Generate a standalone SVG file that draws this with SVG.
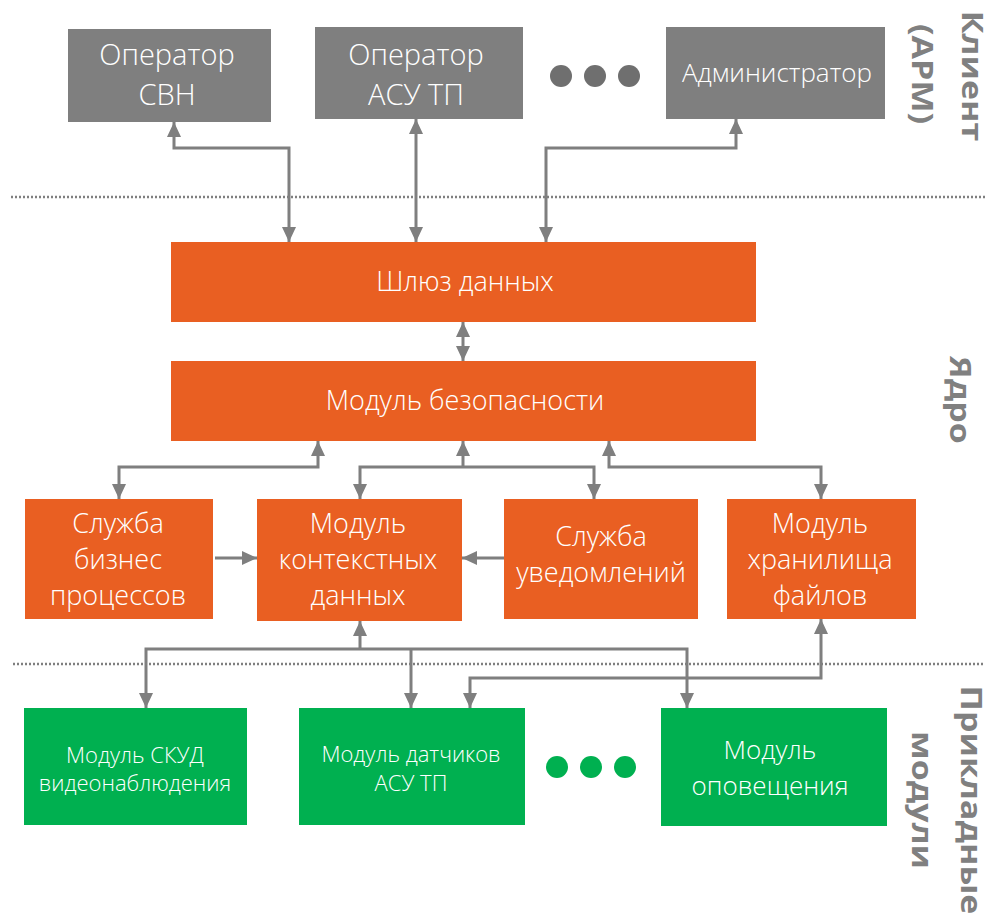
<svg xmlns="http://www.w3.org/2000/svg" width="997" height="917" viewBox="0 0 997 917">
<style>
.g{fill:#7f7f7f}
.o{fill:#e95f22}
.gr{fill:#00b050}
.t{font-family:"Open Sans","Noto Sans",sans-serif;font-weight:350;fill:#fff;text-anchor:middle}
.s{font-family:"Open Sans","Noto Sans",sans-serif;fill:#808080;font-weight:bold;font-size:34px;text-anchor:middle}
.c{fill:none;stroke:#7f7f7f;stroke-width:3}
.d{fill:none;stroke:#7f7f7f;stroke-width:2.5;stroke-dasharray:2 2}
</style>
<defs>
<marker id="ah" viewBox="0 0 15 14" refX="15" refY="7" markerWidth="15" markerHeight="14" markerUnits="userSpaceOnUse" orient="auto-start-reverse">
<path d="M0,0 L15,7 L0,14 z" fill="#7f7f7f"/>
</marker>
</defs>
<rect width="997" height="917" fill="#fff"/>
<g id="separators">
<line class="d" x1="11" y1="197" x2="985" y2="197"/>
<line class="d" x1="13" y1="664" x2="985" y2="664"/>
</g>
<g id="connectors">
<path class="c" d="M289,242 V148 H174 V122" marker-start="url(#ah)" marker-end="url(#ah)"/>
<path class="c" d="M416,242 V119" marker-start="url(#ah)" marker-end="url(#ah)"/>
<path class="c" d="M546,242 V148 H736 V119" marker-start="url(#ah)" marker-end="url(#ah)"/>
<path class="c" d="M463,322 V361" marker-start="url(#ah)" marker-end="url(#ah)"/>
<path class="c" d="M318,441 V467 H119 V499" marker-start="url(#ah)" marker-end="url(#ah)"/>
<path class="c" d="M463,467 V441" marker-end="url(#ah)"/>
<path class="c" d="M360,499 V467 H594 V499" marker-start="url(#ah)" marker-end="url(#ah)"/>
<path class="c" d="M609,441 V467 H821 V499" marker-start="url(#ah)" marker-end="url(#ah)"/>
<path class="c" d="M215,558 H257" marker-end="url(#ah)"/>
<path class="c" d="M504,558 H462" marker-end="url(#ah)"/>
<path class="c" d="M360,649 V621" marker-end="url(#ah)"/>
<path class="c" d="M146,708 V649 H687 V708" marker-start="url(#ah)" marker-end="url(#ah)"/>
<path class="c" d="M411,649 V708" marker-end="url(#ah)"/>
<path class="c" d="M821,619 V678 H470 V708" marker-start="url(#ah)" marker-end="url(#ah)"/>
</g>
<g id="op-svn"><rect class="g" x="68" y="29" width="203" height="93"/>
<text class="t" font-size="29"><tspan x="167" y="65">Оператор</tspan><tspan x="167" y="105">СВН</tspan></text></g>
<g id="op-asu"><rect class="g" x="315" y="27" width="208" height="92"/>
<text class="t" font-size="29"><tspan x="416" y="65">Оператор</tspan><tspan x="416" y="105">АСУ ТП</tspan></text></g>
<g id="dots-top"><circle cx="561" cy="76" r="11" fill="#6f6f6f"/><circle cx="595" cy="76" r="11" fill="#6f6f6f"/><circle cx="629" cy="76" r="11" fill="#6f6f6f"/></g>
<g id="admin"><rect class="g" x="666" y="27" width="219" height="92"/>
<text class="t" font-size="26" x="777" y="82">Администратор</text></g>
<g id="gateway"><rect class="o" x="171" y="242" width="585" height="80"/>
<text class="t" font-size="27" x="465" y="291">Шлюз данных</text></g>
<g id="security"><rect class="o" x="171" y="361" width="585" height="80"/>
<text class="t" font-size="27" x="465" y="410">Модуль безопасности</text></g>
<g id="bp"><rect class="o" x="25" y="499" width="188" height="120"/>
<text class="t" font-size="27"><tspan x="118" y="533">Служба</tspan><tspan x="118" y="569">бизнес</tspan><tspan x="118" y="605">процессов</tspan></text></g>
<g id="ctx"><rect class="o" x="257" y="499" width="205" height="122"/>
<text class="t" font-size="27"><tspan x="358" y="533">Модуль</tspan><tspan x="358" y="569">контекстных</tspan><tspan x="358" y="605">данных</tspan></text></g>
<g id="notify"><rect class="o" x="504" y="499" width="194" height="120"/>
<text class="t" font-size="27"><tspan x="601" y="546">Служба</tspan><tspan x="601" y="582">уведомлений</tspan></text></g>
<g id="files"><rect class="o" x="727" y="499" width="189" height="120"/>
<text class="t" font-size="27"><tspan x="820" y="533">Модуль</tspan><tspan x="820" y="569">хранилища</tspan><tspan x="820" y="605">файлов</tspan></text></g>
<g id="skud"><rect class="gr" x="24" y="708" width="223" height="117"/>
<text class="t" font-size="22"><tspan x="135" y="763">Модуль СКУД</tspan><tspan x="135" y="791">видеонаблюдения</tspan></text></g>
<g id="sensors"><rect class="gr" x="299" y="708" width="226" height="117"/>
<text class="t" font-size="22"><tspan x="411" y="762">Модуль датчиков</tspan><tspan x="411" y="791">АСУ ТП</tspan></text></g>
<g id="dots-bottom"><circle cx="557" cy="767" r="11" fill="#00b050"/><circle cx="591" cy="767" r="11" fill="#00b050"/><circle cx="625" cy="767" r="11" fill="#00b050"/></g>
<g id="alert"><rect class="gr" x="661" y="708" width="226" height="118"/>
<text class="t" font-size="26"><tspan x="770" y="759">Модуль</tspan><tspan x="770" y="795">оповещения</tspan></text></g>
<g id="labels">
<text class="s" transform="translate(962,76) rotate(90) scale(1,0.85)">Клиент</text>
<text class="s" transform="translate(912,74) rotate(90) scale(1,0.85)">(АРМ)</text>
<text class="s" transform="translate(950,400) rotate(90) scale(1,0.85)">Ядро</text>
<text class="s" transform="translate(961,800) rotate(90) scale(1,0.85)">Прикладные</text>
<text class="s" transform="translate(912,800) rotate(90) scale(1,0.85)">модули</text>
</g>
</svg>
